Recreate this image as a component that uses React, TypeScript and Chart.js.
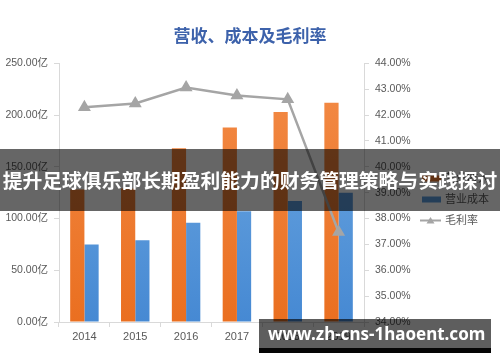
import React, { useEffect, useRef } from "react";
import { Chart, registerables } from "chart.js";

Chart.register(...registerables);

const categories = ["2014", "2015", "2016", "2017", "2018", "2019"];
const revenue = [128, 129, 168, 188, 203, 212];
const cost = [75, 79, 96, 107, 117, 125];
const margin = [42.3, 42.45, 43.07, 42.76, 42.61, 37.48];
const seriesNames = ["营业收入", "营业成本", "毛利率"];
const titleText = "营收、成本及毛利率";
const bannerText = "提升足球俱乐部长期盈利能力的财务管理策略与实践探讨";
const watermarkText = "www.zh-cns-1haoent.com";

const ORANGE_TOP = "#f38c48";
const ORANGE_BOTTOM = "#ea6f20";
const BLUE_TOP = "#72abe2";
const BLUE_BOTTOM = "#4689d3";
const GRAY = "#a5a5a5";
const AXIS = "#d9d9d9";
const TEXT = "#595959";
const FONT = '"Liberation Sans", "Noto Sans CJK SC", sans-serif';

function gradient(top: string, bottom: string) {
  return (c: any) => {
    const chart = c.chart;
    const area = chart.chartArea;
    if (!area) return top;
    const g = chart.ctx.createLinearGradient(0, area.top, 0, area.bottom);
    g.addColorStop(0, top);
    g.addColorStop(1, bottom);
    return g;
  };
}

const legendPlugin = {
  id: "customLegend",
  afterDraw(chart: any) {
    const ctx = chart.ctx;
    const area = chart.chartArea;
    const x0 = area.right + 58;
    const y0 = 178.5;
    const gap = 21;
    ctx.save();
    ctx.font = "11px " + FONT;
    ctx.textBaseline = "middle";
    ctx.textAlign = "left";
    chart.data.datasets.forEach((ds: any, i: number) => {
      const y = y0 + i * gap;
      if (ds.type === "line") {
        ctx.strokeStyle = ds.borderColor;
        ctx.lineWidth = 2;
        ctx.beginPath();
        ctx.moveTo(x0 - 2, y);
        ctx.lineTo(x0 + 19, y);
        ctx.stroke();
        ctx.fillStyle = ds.borderColor;
        ctx.beginPath();
        ctx.moveTo(x0 + 8.5, y - 3.5);
        ctx.lineTo(x0 + 12.5, y + 3);
        ctx.lineTo(x0 + 4.5, y + 3);
        ctx.closePath();
        ctx.fill();
      } else {
        ctx.fillStyle = ds.legendColor;
        ctx.fillRect(x0, y - 3, 19, 6);
      }
      ctx.fillStyle = TEXT;
      ctx.fillText(ds.label, x0 + 23, y);
    });
    ctx.restore();
  },
};

export default function App() {
  const canvasRef = useRef<HTMLCanvasElement | null>(null);

  useEffect(() => {
    const canvas = canvasRef.current;
    if (!canvas) return;
    const chart = new Chart(canvas, {
      type: "bar",
      data: {
        labels: categories,
        datasets: [
          {
            type: "bar",
            label: seriesNames[0],
            data: revenue,
            backgroundColor: gradient(ORANGE_TOP, ORANGE_BOTTOM),
            legendColor: "#ef7b30",
            yAxisID: "y",
            order: 1,
            categoryPercentage: 0.56,
            barPercentage: 1,
          } as any,
          {
            type: "bar",
            label: seriesNames[1],
            data: cost,
            backgroundColor: gradient(BLUE_TOP, BLUE_BOTTOM),
            legendColor: "#5a9bdb",
            yAxisID: "y",
            order: 1,
            categoryPercentage: 0.56,
            barPercentage: 1,
          } as any,
          {
            type: "line",
            label: seriesNames[2],
            data: margin,
            borderColor: GRAY,
            backgroundColor: GRAY,
            borderWidth: 2.5,
            pointStyle: "triangle",
            pointRadius: 5,
            pointBackgroundColor: GRAY,
            pointBorderColor: GRAY,
            yAxisID: "y1",
            order: 0,
            tension: 0,
          } as any,
        ],
      },
      options: {
        responsive: false,
        animation: false,
        devicePixelRatio: 1,
        layout: { padding: 0 },
        plugins: {
          legend: { display: false },
          tooltip: { enabled: false },
          title: {
            display: true,
            text: titleText,
            color: "#3d62ab",
            font: { size: 17, weight: "bold", family: '"Noto Sans CJK SC", sans-serif' },
            padding: { top: 25, bottom: 18 },
          },
        },
        scales: {
          x: {
            grid: {
              display: true,
              drawOnChartArea: false,
              drawTicks: true,
              tickLength: 5,
              color: AXIS,
              offset: true,
            },
            border: { color: AXIS },
            ticks: { color: TEXT, font: { size: 11, family: FONT }, padding: 3 },
            afterFit: (s: any) => {
              s.height = 40;
            },
          },
          y: {
            position: "left",
            min: 0,
            max: 250,
            grid: { drawOnChartArea: false, tickLength: 5, color: AXIS },
            border: { color: AXIS },
            ticks: {
              stepSize: 50,
              color: TEXT,
              padding: 6,
              font: { size: 10.5, family: FONT },
              callback: (v: any) => Number(v).toFixed(2) + "亿",
            },
            afterFit: (s: any) => {
              s.width = 59;
            },
          },
          y1: {
            position: "right",
            min: 34,
            max: 44,
            grid: { drawOnChartArea: false, tickLength: 5, color: AXIS },
            border: { color: AXIS },
            ticks: {
              stepSize: 1,
              color: TEXT,
              padding: 6,
              font: { size: 10.5, family: FONT },
              callback: (v: any) => Number(v).toFixed(2) + "%",
            },
            afterFit: (s: any) => {
              s.width = 136;
            },
          },
        },
      } as any,
      plugins: [legendPlugin],
    });
    return () => chart.destroy();
  }, []);

  return (
    <div
      style={{
        position: "fixed",
        left: 0,
        top: 0,
        width: 500,
        height: 362,
        background: "#ffffff",
        overflow: "hidden",
      }}
    >
      <canvas
        ref={canvasRef}
        width={500}
        height={362}
        style={{ display: "block", width: 500, height: 362 }}
      />
      <div
        style={{
          position: "absolute",
          left: 0,
          top: 149,
          width: 500,
          height: 62,
          background: "rgba(0,0,0,0.6)",
          color: "#ffffff",
          fontFamily: '"Noto Sans CJK SC", sans-serif',
          fontWeight: 700,
          fontSize: 19.8,
          lineHeight: "62px",
          textAlign: "center",
          whiteSpace: "nowrap",
        }}
      >
        {bannerText}
      </div>
      <div
        style={{
          position: "absolute",
          left: 259,
          top: 319,
          width: 232,
          height: 29,
          background: "rgba(0,0,0,0.63)",
          color: "#ffffff",
          fontFamily: '"Noto Sans", "DejaVu Sans", sans-serif',
          fontWeight: 700,
          fontSize: 17,
          lineHeight: "29px",
          paddingLeft: 9,
          boxSizing: "border-box",
          whiteSpace: "nowrap",
        }}
      >
        {watermarkText}
      </div>
      <div
        style={{
          position: "absolute",
          left: 259,
          top: 348,
          width: 232,
          height: 5,
          background: "#050505",
        }}
      />
    </div>
  );
}
